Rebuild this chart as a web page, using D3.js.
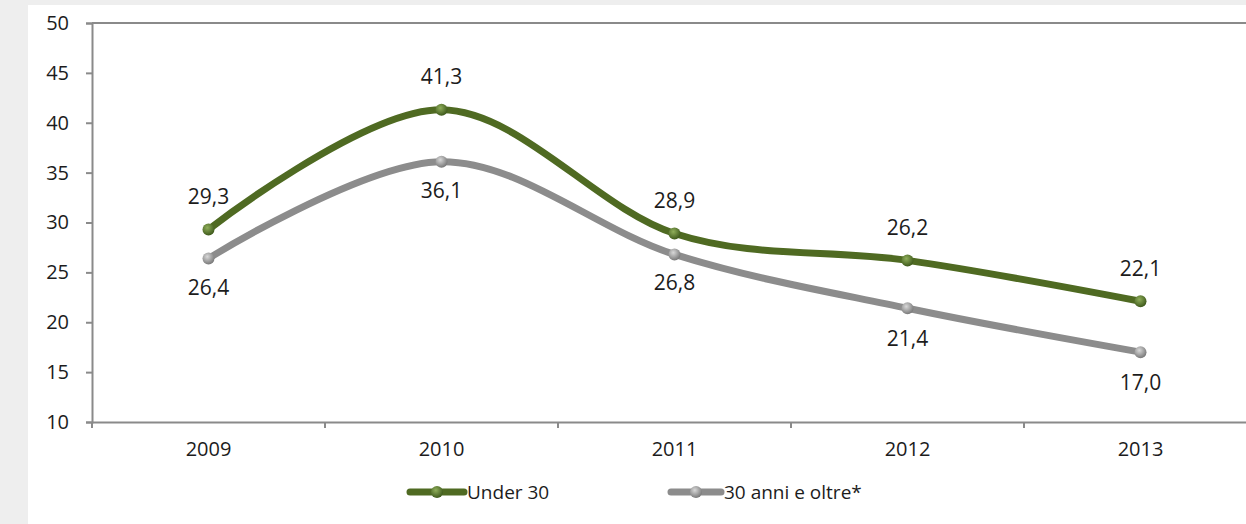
<!DOCTYPE html>
<html><head><meta charset="utf-8">
<script src="https://cdn.jsdelivr.net/npm/d3@7/dist/d3.min.js"></script>
<style>
html,body{margin:0;padding:0;background:#eeeeee;}
svg{display:block;}
text{font-family:"Open Sans","Noto Sans",sans-serif;fill:#1c1c1c;}
</style></head><body>
<svg id="c" width="1246" height="524"></svg>
<script>
const categories = ["2009","2010","2011","2012","2013"];
const under30 = [29.3, 41.3, 28.9, 26.2, 22.1];
const over30 = [26.4, 36.1, 26.8, 21.4, 17.0];
const under30Labels = ["29,3","41,3","28,9","26,2","22,1"];
const over30Labels = ["26,4","36,1","26,8","21,4","17,0"];
const yTicks = [10,15,20,25,30,35,40,45,50];
const seriesNames = ["Under 30","30 anni e oltre*"];

const svg = d3.select("#c");
svg.append("rect").attr("x",28).attr("y",5).attr("width",1218).attr("height",519).attr("fill","#fff");

const mLeft = 92, mTop = 23, mBottom = 422, bandW = 233;
const x = d3.scaleBand().domain(categories).range([mLeft, mLeft + bandW*categories.length]).padding(0);
const y = d3.scaleLinear().domain([10,50]).range([mBottom, mTop]);

const axisCol = "#8a8a8a";
svg.append("line").attr("x1",mLeft).attr("x2",1246).attr("y1",y(50)).attr("y2",y(50)).attr("stroke",axisCol).attr("stroke-width",2);

const yAxis = svg.append("g").attr("transform",`translate(${mLeft},0)`)
  .call(d3.axisLeft(y).tickValues(yTicks).tickSize(6).tickPadding(17).tickFormat(d3.format("d")));
yAxis.select(".domain").attr("stroke",axisCol).attr("stroke-width",2);
yAxis.selectAll(".tick line").attr("stroke",axisCol).attr("stroke-width",2);
yAxis.selectAll("text").style("font-size","20px").attr("fill","#1c1c1c");

const xAxis = svg.append("g").attr("transform",`translate(0,${mBottom})`)
  .call(d3.axisBottom(x).tickSize(0).tickPadding(20));
xAxis.select(".domain").attr("stroke",axisCol).attr("stroke-width",2);
xAxis.selectAll("text").style("font-size","20px").attr("fill","#1c1c1c");
svg.append("g").selectAll("line").data(categories).join("line")
  .attr("x1",d=>x(d)).attr("x2",d=>x(d)).attr("y1",mBottom).attr("y2",mBottom+6)
  .attr("stroke",axisCol).attr("stroke-width",2);

const defs = svg.append("defs");
function grad(id, light, dark){
  const g = defs.append("radialGradient").attr("id",id).attr("cx","40%").attr("cy","35%").attr("r","65%");
  g.append("stop").attr("offset","0%").attr("stop-color",light);
  g.append("stop").attr("offset","100%").attr("stop-color",dark);
}
grad("gG","#8fae5a","#3f5a1c");
grad("gR","#d8d8d8","#7a7a7a");

const line = d3.line().x((d,i)=>x(categories[i])+x.bandwidth()/2).y(d=>y(d)).curve(d3.curveCardinal.tension(0));

function draw(vals, labels, col, fill, offs){
  svg.append("path").datum(vals).attr("d",line).attr("fill","none").attr("stroke",col).attr("stroke-width",7).attr("stroke-linecap","round");
  svg.append("g").selectAll("circle").data(vals).join("circle")
    .attr("cx",(d,i)=>x(categories[i])+x.bandwidth()/2).attr("cy",d=>y(d)).attr("r",6).attr("fill",fill);
  svg.append("g").selectAll("text").data(vals).join("text")
    .attr("x",(d,i)=>x(categories[i])+x.bandwidth()/2).attr("y",(d,i)=>y(d)+offs[i])
    .attr("text-anchor","middle").attr("dominant-baseline","central").style("font-size","21px")
    .text((d,i)=>labels[i]);
}
draw(over30, over30Labels, "#8c8c8c", "url(#gR)", [29,28,28,30,30]);
draw(under30, under30Labels, "#4f6a22", "url(#gG)", [-33,-34,-33,-33,-33]);

const leg = [{name:seriesNames[0], col:"#4f6a22", fill:"url(#gG)", x0:410, x1:464},
             {name:seriesNames[1], col:"#8c8c8c", fill:"url(#gR)", x0:671, x1:721}];
const lg = svg.append("g").selectAll("g").data(leg).join("g");
lg.append("line").attr("x1",d=>d.x0).attr("x2",d=>d.x1).attr("y1",492).attr("y2",492).attr("stroke",d=>d.col).attr("stroke-width",7).attr("stroke-linecap","round");
lg.append("circle").attr("cx",d=>(d.x0+d.x1)/2).attr("cy",492).attr("r",6).attr("fill",d=>d.fill);
lg.append("text").attr("x",d=>d.x1+3).attr("y",492).attr("dominant-baseline","central").style("font-size","19px").text(d=>d.name);
</script></body></html>
